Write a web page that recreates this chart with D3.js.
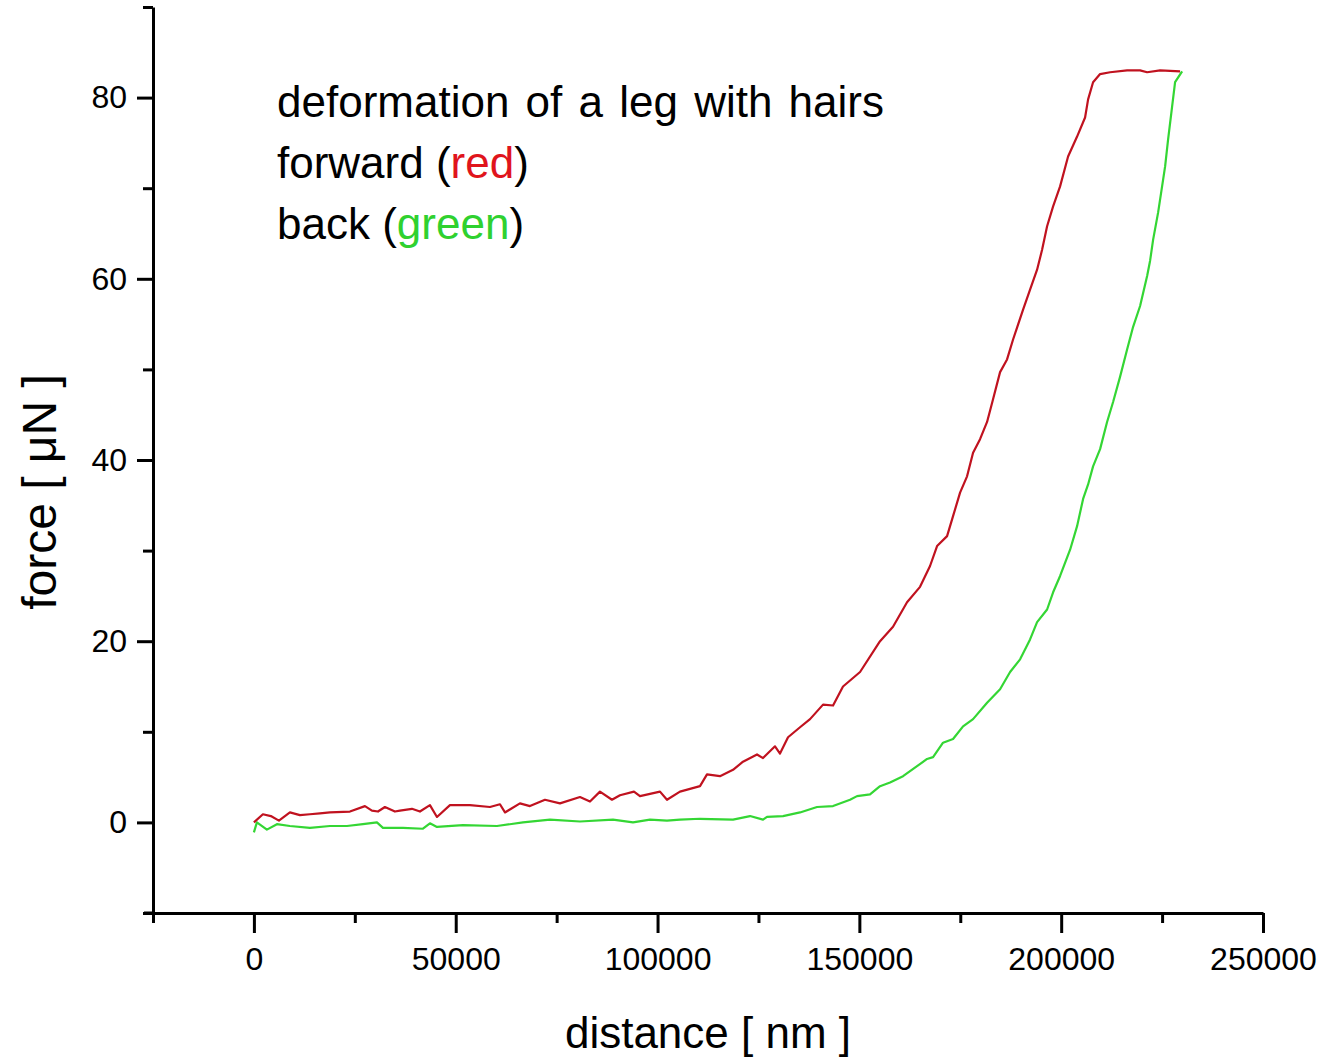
<!DOCTYPE html>
<html>
<head>
<meta charset="utf-8">
<script src="https://cdn.jsdelivr.net/npm/d3@7"></script>
<style>
  body { margin: 0; background: #fff; }
  svg { display: block; font-family: "Liberation Sans", Arial, sans-serif; }
  .axis path, .axis line { stroke: #000; stroke-width: 3; }
  .axis text { font-size: 32px; fill: #000; font-family: "Liberation Sans", Arial, sans-serif; }
</style>
</head>
<body>
<div id="plot"></div>
<script>
// force vs distance

// forward run (red)
var forwardX = [0, 2230, 4200, 6200, 8920, 11400, 13880, 16350, 18830, 23790, 27510, 29240, 30730, 32460,
  34940, 36180, 39150, 41130, 43610, 45350, 48570, 53520, 58480, 60960, 62200, 65910, 68390, 72110,
  75830, 80780, 83260, 85740, 88710, 90690, 94160, 95650, 100610, 102340, 105560, 110520, 112250,
  115470, 118700, 121170, 124640, 126130, 129100, 130340, 132330, 135300, 137780, 141000, 143480,
  145950, 150170, 155120, 158340, 161810, 165030, 167510, 169250, 171730, 173210, 174950, 176680,
  178170, 179900, 181640, 183120, 184860, 186590, 188080, 190560, 192290, 194030, 195270, 196510,
  198000, 199730, 201710, 203940, 205920, 206670, 207900, 209640, 212120, 216330, 219550, 221290,
  224510, 229460];
var forwardY = [0.0, 0.9, 0.7, 0.2, 1.1, 0.8, 0.9, 1.0, 1.1, 1.2, 1.8, 1.3, 1.2, 1.7,
  1.2, 1.3, 1.5, 1.2, 1.9, 0.6, 1.9, 1.9, 1.7, 2.0, 1.1, 2.1, 1.8, 2.5,
  2.1, 2.8, 2.3, 3.4, 2.5, 3.0, 3.4, 2.9, 3.4, 2.5, 3.4, 4.0, 5.3,
  5.1, 5.8, 6.7, 7.5, 7.1, 8.4, 7.6, 9.4, 10.5, 11.4, 13.0, 12.9,
  15.0, 16.6, 20.0, 21.6, 24.3, 26.0, 28.3, 30.5, 31.6, 33.8, 36.4, 38.2,
  40.8, 42.3, 44.2, 46.7, 49.7, 51.1, 53.3, 56.6, 58.8, 61.0, 63.2, 65.8,
  68.0, 70.2, 73.5, 75.7, 77.8, 79.8, 81.7, 82.6, 82.8, 83.0, 83.0, 82.8,
  83.0, 82.9];

// back run (green)
var backX = [0, 740, 3220, 5700, 8920, 13880, 18830, 23050, 27010, 30480, 31970, 36920, 41880, 43610,
  45350, 51790, 60220, 66660, 73350, 80780, 88960, 93920, 98130, 102340, 105560, 110520, 118700,
  122910, 126130, 127120, 131090, 135300, 139510, 143480, 147690, 149420, 152640, 155120, 157600,
  160820, 164290, 166770, 168260, 170730, 173210, 175690, 178170, 181640, 184860, 187340, 189820,
  192290, 194030, 196510, 198000, 199730, 202210, 203940, 205430, 206670, 207900, 209640, 211370,
  212860, 214600, 216330, 217820, 219550, 221290, 222030, 222770, 224010, 225000, 225750, 226490,
  227480, 228220, 229960];
var backY = [-1.1, 0.0, -0.8, -0.2, -0.4, -0.6, -0.4, -0.4, -0.2, 0.0, -0.6, -0.6, -0.7, -0.1,
  -0.5, -0.3, -0.4, 0.0, 0.3, 0.1, 0.3, 0.0, 0.3, 0.2, 0.3, 0.4, 0.3,
  0.7, 0.3, 0.6, 0.7, 1.1, 1.7, 1.8, 2.5, 2.9, 3.1, 4.0, 4.4,
  5.1, 6.2, 7.0, 7.2, 8.8, 9.2, 10.6, 11.4, 13.2, 14.7, 16.6, 18.0,
  20.2, 22.1, 23.5, 25.4, 27.2, 30.1, 32.7, 35.7, 37.3, 39.3, 41.2, 44.2,
  46.4, 49.2, 52.2, 54.7, 57.0, 60.3, 62.0, 64.3, 67.3, 70.2, 72.4, 75.4,
  79.0, 81.7, 82.9];

var xMajor = [0, 50000, 100000, 150000, 200000, 250000];
var xMinor = [-25000, 25000, 75000, 125000, 175000, 225000];
var yMajor = [0, 20, 40, 60, 80];
var yMinor = [-10, 10, 30, 50, 70, 90];

var legendLines = [
  [{ t: "deformation of a leg with hairs", c: "#000" }],
  [{ t: "forward (", c: "#000" }, { t: "red", c: "#e0141c" }, { t: ")", c: "#000" }],
  [{ t: "back (", c: "#000" }, { t: "green", c: "#2fd12f" }, { t: ")", c: "#000" }]
];

var svgWidth = 1321;
var svgHeight = 1059;

var svg = d3.select("#plot")
  .append("svg")
  .attr("width", svgWidth)
  .attr("height", svgHeight);

var xScale = d3.scaleLinear()
  .domain([-25000, 250000])
  .range([153, 1263]);

var yScale = d3.scaleLinear()
  .domain([-10, 90])
  .range([913, 7]);

// axes: minor ticks first, then the labelled ones
svg.append("g")
  .attr("class", "axis")
  .attr("transform", "translate(0, 913)")
  .call(d3.axisBottom(xScale).tickValues(xMinor).tickSize(10).tickSizeOuter(0).tickFormat(""));

svg.append("g")
  .attr("class", "axis")
  .attr("transform", "translate(0, 913)")
  .call(d3.axisBottom(xScale).tickValues(xMajor).tickSize(20).tickSizeOuter(0).tickPadding(14).tickFormat(d3.format("d")))
  .select(".domain").remove();

svg.append("g")
  .attr("class", "axis")
  .attr("transform", "translate(153, 0)")
  .call(d3.axisLeft(yScale).tickValues(yMinor).tickSize(10).tickSizeOuter(0).tickFormat(""));

svg.append("g")
  .attr("class", "axis")
  .attr("transform", "translate(153, 0)")
  .call(d3.axisLeft(yScale).tickValues(yMajor).tickSize(16).tickSizeOuter(0).tickPadding(10).tickFormat(d3.format("d")))
  .select(".domain").remove();

// little overhang of the x axis line past the y axis
svg.append("line")
  .attr("x1", 144).attr("x2", 153)
  .attr("y1", 913).attr("y2", 913)
  .attr("stroke", "#000").attr("stroke-width", 3);

var line = d3.line()
  .x(d => xScale(d[0]))
  .y(d => yScale(d[1]));

var forward = forwardX.map((x, i) => [x, forwardY[i]]);
var back = backX.map((x, i) => [x, backY[i]]);

svg.append("path")
  .datum(back)
  .attr("d", line)
  .attr("fill", "none")
  .attr("stroke", "#34d634")
  .attr("stroke-width", 2.2)
  .attr("stroke-linejoin", "round");

svg.append("path")
  .datum(forward)
  .attr("d", line)
  .attr("fill", "none")
  .attr("stroke", "#c0121f")
  .attr("stroke-width", 2.2)
  .attr("stroke-linejoin", "round");

// legend text
var legend = svg.append("g");
legendLines.forEach(function (parts, i) {
  var t = legend.append("text")
    .attr("x", 277)
    .attr("y", 117 + i * 61)
    .attr("font-size", 44)
    .attr("word-spacing", i === 0 ? 4 : 0);
  parts.forEach(function (p) {
    t.append("tspan").attr("fill", p.c).text(p.t);
  });
});

// axis titles
svg.append("text")
  .attr("x", 708)
  .attr("y", 1048)
  .attr("text-anchor", "middle")
  .attr("font-size", 44)
  .text("distance [ nm ]");

svg.append("text")
  .attr("transform", "translate(56, 492) rotate(-90)")
  .attr("text-anchor", "middle")
  .attr("font-size", 48)
  .text("force [ μN ]");
</script>
</body>
</html>
